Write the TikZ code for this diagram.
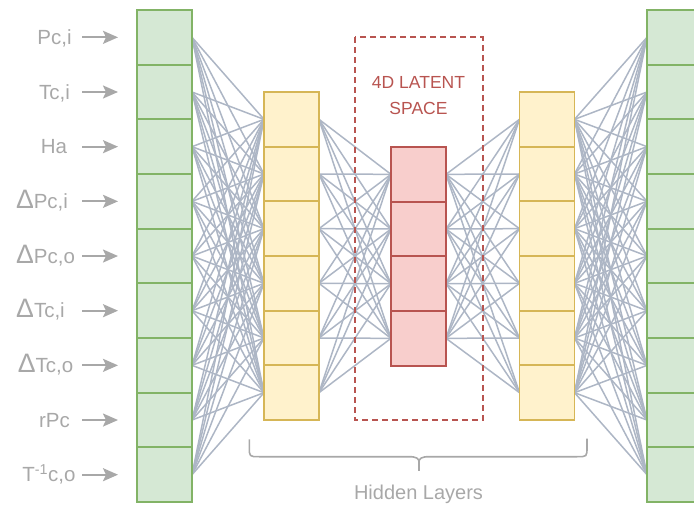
\documentclass[tikz,border=0pt]{standalone}
\usepackage{fontspec}
\setmainfont{Liberation Sans}
\usetikzlibrary{arrows.meta,backgrounds}

\definecolor{inFill}{HTML}{D5E8D4}
\definecolor{inLine}{HTML}{82B366}
\definecolor{hidFill}{HTML}{FFF2CC}
\definecolor{hidLine}{HTML}{D6B656}
\definecolor{latFill}{HTML}{F8CECC}
\definecolor{latLine}{HTML}{B85450}
\definecolor{wire}{HTML}{ADB6C5}
\definecolor{labelGrey}{HTML}{A8A8A8}

% enlarged delta sign for the difference features
\newcommand{\dl}{\scalebox{1.3}{Δ}}

\begin{document}
\begin{tikzpicture}[x=1pt,y=-1pt,
  cell/.style={rectangle, minimum width=55pt, minimum height=54.67pt,
    inner sep=0pt, outer sep=0pt},
  incell/.style={cell, fill=inFill},
  hidcell/.style={cell, fill=hidFill},
  latcell/.style={cell, fill=latFill},
  wireline/.style={draw=wire, line width=1.5pt},
  feed/.style={draw=labelGrey, line width=2pt,
    -{Stealth[length=15pt, width=13pt, inset=3pt]}},
  featlabel/.style={anchor=base, inner sep=0pt, text=labelGrey,
    font=\fontsize{20.5}{24}\selectfont},
  latlabel/.style={anchor=base, inner sep=0pt, text=latLine,
    font=\fontsize{17.5}{20}\selectfont},
  bracket/.style={draw=labelGrey, line width=1.6pt, line join=round}
]
\useasboundingbox (0,0) rectangle (694,505);

% ---- layer cells (fills) ----
\foreach \i in {1,...,9} {
  \node[incell]  (in\i)  at (164.5, {10+54.67*(\i-0.5)}) {};
  \node[incell]  (out\i) at (674.5, {10+54.67*(\i-0.5)}) {};
}
\foreach \j in {1,...,6} {
  \node[hidcell] (h\j) at (291.5, {92+54.67*(\j-0.5)}) {};
  \node[hidcell] (g\j) at (547,   {92+54.67*(\j-0.5)}) {};
}
\foreach \k in {1,...,4} {
  \node[latcell] (z\k) at (418.5, {147+54.67*(\k-0.5)}) {};
}

% ---- cell borders, drawn after all fills so shared edges stay full width ----
\foreach \i in {1,...,9} {
  \draw[inLine, line width=1.8pt] (in\i.north west) rectangle (in\i.south east);
  \draw[inLine, line width=1.8pt] (out\i.north west) rectangle (out\i.south east);
}
\foreach \j in {1,...,6} {
  \draw[hidLine, line width=1.8pt] (h\j.north west) rectangle (h\j.south east);
  \draw[hidLine, line width=1.8pt] (g\j.north west) rectangle (g\j.south east);
}
\foreach \k in {1,...,4} {
  \draw[latLine, line width=1.8pt] (z\k.north west) rectangle (z\k.south east);
}

% ---- full connections between neighbouring layers ----
\begin{scope}[on background layer]
\foreach \i in {1,...,9} \foreach \j in {1,...,6} {
  \path[wireline] (in\i.east) -- (h\j.west);
  \path[wireline] (g\j.east) -- (out\i.west);
}
\foreach \j in {1,...,6} \foreach \k in {1,...,4} {
  \path[wireline] (h\j.east) -- (z\k.west);
  \path[wireline] (z\k.east) -- (g\j.west);
}
\end{scope}

% ---- latent space frame ----
\draw[latLine, line width=1.6pt, dash pattern=on 6pt off 4pt]
  (354.7,37.3) rectangle (482.7,420);
\node[latlabel] (lat1) at (418.5,88.3) {4D LATENT};
\node[latlabel] (lat2) at (418.5,115) {SPACE};

% ---- input features ----
\foreach \i/\x/\t in {1/54.5/{Pc,i}, 2/54.5/{Tc,i}, 3/54/{Ha},
    4/42/{\dl Pc,i}, 5/45.5/{\dl Pc,o}, 6/40.5/{\dl Tc,i},
    7/45.5/{\dl Tc,o}, 8/54.5/{rPc}, 9/49/{T\textsuperscript{-1}c,o}} {
  \node[featlabel] (f\i) at (\x, {10+54.67*(\i-0.5)+7}) {\t};
  \coordinate (s\i) at (82,  {10+54.67*(\i-0.5)});
  \coordinate (e\i) at (118, {10+54.67*(\i-0.5)});
  \draw[feed] (s\i) -- (e\i);
}

% ---- hidden layers bracket ----
\draw[bracket]
  (249.3,439.3) -- (249.3,447) .. controls (249.3,456.7) .. (259.3,456.7)
  -- (409,456.7) .. controls (416.5,456.7) and (419,458.5) .. (419,462)
  .. controls (419,458.5) and (421.5,456.7) .. (429,456.7)
  -- (577,456.7) .. controls (587,456.7) .. (587,447) -- (587,438.5);
\draw[bracket] (419,462) -- (419,471);
\node[anchor=base, inner sep=0pt, text=labelGrey,
  font=\fontsize{20}{24}\selectfont] (hl) at (418.5,499.3) {Hidden Layers};
\end{tikzpicture}
\end{document}
